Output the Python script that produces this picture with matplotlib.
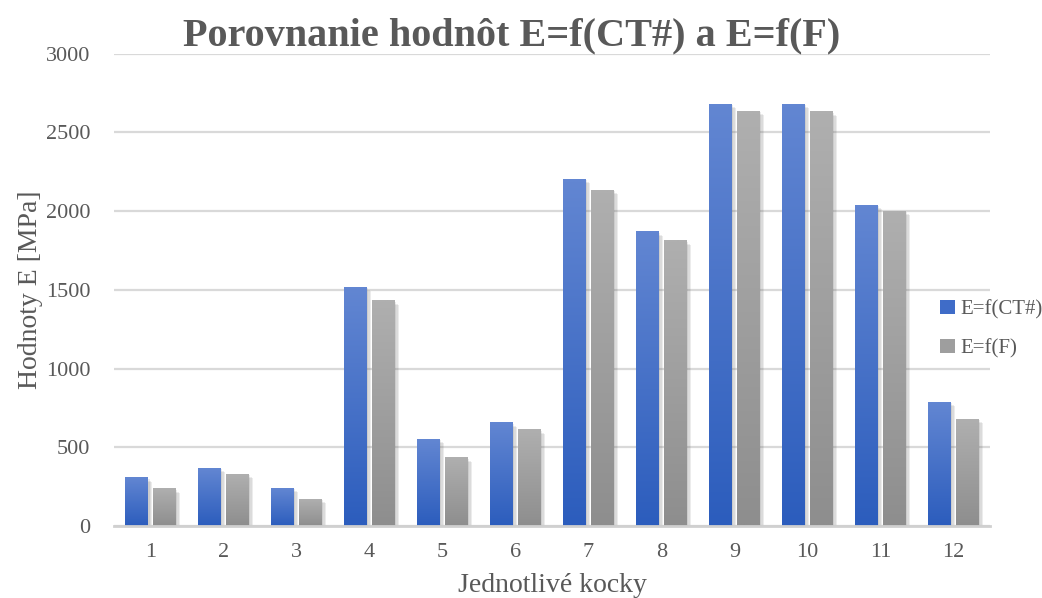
import numpy as np
import matplotlib
matplotlib.use("Agg")
import matplotlib.pyplot as plt
from matplotlib.patches import Rectangle, Patch
from matplotlib.colors import to_rgb
import matplotlib.patheffects as pe

plt.rcParams['font.family'] = ['Liberation Serif', 'DejaVu Serif']

kocky = ['1', '2', '3', '4', '5', '6', '7', '8', '9', '10', '11', '12']
e_ct = [305, 368, 241, 1517, 552, 655, 2203, 1867, 2679, 2679, 2038, 787]
e_f = [235, 330, 171, 1430, 432, 610, 2133, 1810, 2635, 2629, 2000, 679]
yticks = [0, 500, 1000, 1500, 2000, 2500, 3000]

TEXT = '#595959'
BLUE_TOP, BLUE_BOT = '#6286d2', '#2c5dbd'
GRAY_TOP, GRAY_BOT = '#afafaf', '#8e8e8e'


def gradient(top, bot, n=64):
    t = np.linspace(0, 1, n)[:, None]
    a, b = np.array(to_rgb(top)), np.array(to_rgb(bot))
    return (a * (1 - t) + b * t)[:, None, :]


fig = plt.figure(figsize=(10.42, 5.98), dpi=100)
ax = fig.add_axes([0.1094, 0.1204, 0.8406, 0.7901])

width = 0.315
off = 0.19
x = np.arange(len(kocky))
series = [(e_ct, -off, BLUE_TOP, BLUE_BOT), (e_f, off, GRAY_TOP, GRAY_BOT)]
# soft shadow: a few faint offset layers
shadow = [pe.SimplePatchShadow(offset=(d, -d), shadow_rgbFace='#666666', alpha=0.12)
          for d in (3, 2, 1)] + [pe.Normal()]

for vals, dx, top, bot in series:
    img = gradient(top, bot)
    for xi, v in zip(x, vals):
        x0 = xi + dx - width / 2
        r = Rectangle((x0, 0), width, v, facecolor=bot, edgecolor='none', zorder=3)
        r.set_path_effects(shadow)
        ax.add_patch(r)
        ax.imshow(img, extent=[x0, x0 + width, 0, v], aspect='auto', zorder=4, interpolation='bilinear')

ax.set_xlim(-0.5, len(kocky) - 0.5)
ax.set_ylim(0, 3000)
ax.set_yticks(yticks)
ax.set_xticks(x)
ax.set_xticklabels(kocky)
ax.yaxis.grid(True, color='#d9d9d9', linewidth=1.6, zorder=0)
ax.set_axisbelow(True)
for s in ['top', 'right', 'left']:
    ax.spines[s].set_visible(False)
ax.spines['bottom'].set_color('#d0d0d0')
ax.spines['bottom'].set_linewidth(2)
ax.spines['bottom'].set_zorder(5)
ax.tick_params(length=0, labelsize=16, labelcolor=TEXT)
ax.tick_params(axis='y', pad=17)
ax.tick_params(axis='x', pad=12)

ax.set_ylabel('Hodnoty E [MPa]', fontsize=20, color=TEXT, labelpad=2)
ax.set_xlabel('Jednotlivé kocky', fontsize=20, color=TEXT, labelpad=8)
fig.text(0.491, 0.94, 'Porovnanie hodnôt E=f(CT#) a E=f(F)', ha='center', va='center',
         fontsize=29, fontweight='bold', color=TEXT)

handles = [Patch(facecolor='#3f6cc8', label='E=f(CT#)'), Patch(facecolor='#9e9e9e', label='E=f(F)')]
fig.legend(handles=handles, loc='center left', bbox_to_anchor=(930 / 1042, (598 - 329) / 598),
           frameon=False, fontsize=15, handlelength=0.7, handleheight=0.7, handletextpad=0.25,
           labelspacing=0.95, borderpad=0, labelcolor=TEXT)

fig.savefig('out.png', dpi=100)
